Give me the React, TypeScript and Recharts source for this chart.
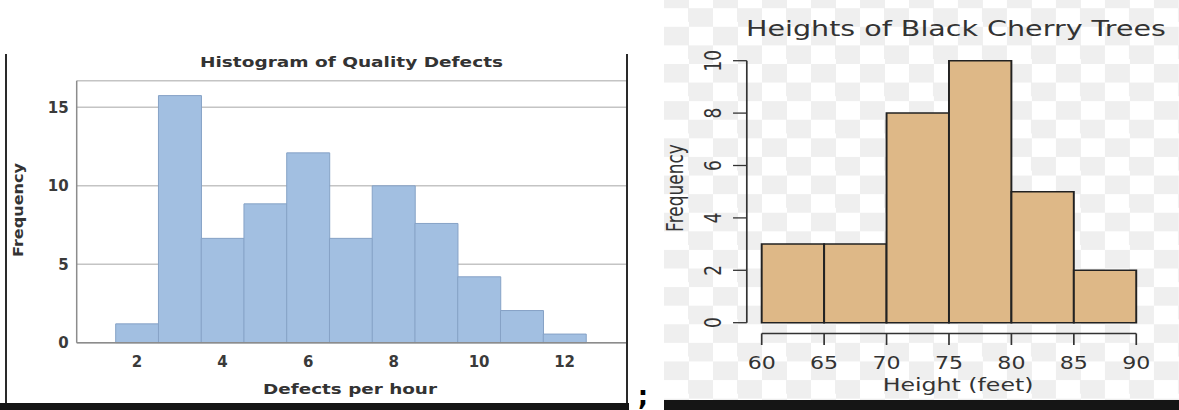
import React from 'react';
import { BarChart, Bar, XAxis, YAxis, CartesianGrid, ReferenceLine } from 'recharts';

// Histogram of Quality Defects (left)
const defectBins = [2, 3, 4, 5, 6, 7, 8, 9, 10, 11, 12];
const defectFreq = [1.2, 15.75, 6.65, 8.85, 12.1, 6.65, 10, 7.6, 4.2, 2.05, 0.55];
const defectYTicks = [0, 5, 10, 15];

// Heights of Black Cherry Trees (right)
const heightBinStarts = [60, 65, 70, 75, 80, 85];
const heightCounts = [3, 3, 8, 10, 5, 2];
const heightXTicks = [60, 65, 70, 75, 80, 85, 90];
const heightYTicks = [0, 2, 4, 6, 8, 10];

const defectData = defectBins.map((b, i) => ({ bin: b, freq: defectFreq[i] }));
const heightData = heightBinStarts.map((b, i) => ({ mid: b + 2.5, count: heightCounts[i] }));

const STRETCH = 1.3; // right picture is stretched sideways
const RIGHT_W = 515 / STRETCH;
const AXIS_GAP_X = 11.45; // R draws the y axis away from the bars
const AXIS_GAP_Y = 10.8;

const boldTick = { fill: '#3a3a3a', fontSize: 15, fontWeight: 700, fontFamily: 'DejaVu Sans' };

const YTickR = (props: any) => {
  const { x, y, payload } = props;
  const ax = x - AXIS_GAP_X;
  const tx = ax - 10.6 - 9.2;
  return (
    <g>
      <line x1={ax - 10.6} y1={y} x2={ax} y2={y} stroke="#333" strokeWidth={1.3} />
      <text x={tx} y={y} transform={`rotate(-90 ${tx} ${y})`} textAnchor="middle" fill="#333" fontSize={17} fontFamily="DejaVu Sans">
        {payload.value}
      </text>
    </g>
  );
};

const XTickR = (props: any) => {
  const { x, y, payload } = props;
  const ay = y + AXIS_GAP_Y;
  return (
    <g>
      <line x1={x} y1={ay} x2={x} y2={ay + 11.5} stroke="#333" strokeWidth={1.3} />
      <text x={x} y={ay + 35.2} textAnchor="middle" fill="#333" fontSize={17} fontFamily="DejaVu Sans">
        {payload.value}
      </text>
    </g>
  );
};

const shiftedLine = (dx: number, dy: number) => (p: any) => (
  <line x1={p.x1 + dx} y1={p.y1 + dy} x2={p.x2 + dx} y2={p.y2 + dy} stroke="#333" strokeWidth={1.3} />
);

const checker =
  'repeating-conic-gradient(#efefef 0% 25%, #ffffff 0% 50%) 0px 8.2px / 37.7px 37.2px';

export default function App() {
  return (
    <div style={{ position: 'absolute', left: 0, top: 0, width: 1179, height: 410, overflow: 'hidden', background: '#fff' }}>
      {/* left panel */}
      <div style={{ position: 'absolute', left: 0, top: 0, width: 628, height: 403 }}>
        <BarChart
          width={628}
          height={403}
          data={defectData}
          margin={{ top: 80.7, right: 2, bottom: 0, left: 0 }}
          barCategoryGap={0}
          barGap={0}
        >
          <CartesianGrid vertical={false} stroke="#c4c4c4" strokeWidth={1.5} />
          <XAxis
            dataKey="bin"
            interval={1}
            tickLine={false}
            axisLine={{ stroke: '#8c8c8c', strokeWidth: 1.5 }}
            padding={{ left: 39, right: 40 }}
            height={60.3}
            tickMargin={8}
            tick={boldTick}
          />
          <YAxis
            domain={[0, 16.7]}
            ticks={defectYTicks}
            interval={0}
            width={76.7}
            tickLine={false}
            axisLine={{ stroke: '#8c8c8c', strokeWidth: 1.5 }}
            tick={boldTick}
          />
          <Bar dataKey="freq" fill="#a2bfe1" stroke="#86a2c6" strokeWidth={1} isAnimationActive={false} />
        </BarChart>
        <svg width={628} height={410} style={{ position: 'absolute', left: 0, top: 0, pointerEvents: 'none' }}>
          <text x={351.5} y={66.5} textAnchor="middle" fontSize={14} fontWeight={700} fontFamily="DejaVu Sans" fill="#333" textLength={303} lengthAdjust="spacingAndGlyphs">
            Histogram of Quality Defects
          </text>
          <text x={350} y={394} textAnchor="middle" fontSize={14} fontWeight={700} fontFamily="DejaVu Sans" fill="#333" textLength={174} lengthAdjust="spacingAndGlyphs">
            Defects per hour
          </text>
          <text x={23} y={210} transform="rotate(-90 23 210)" textAnchor="middle" fontSize={14} fontWeight={700} fontFamily="DejaVu Sans" fill="#333" textLength={94} lengthAdjust="spacingAndGlyphs">
            Frequency
          </text>
        </svg>
      </div>
      <div style={{ position: 'absolute', left: 5, top: 54, width: 2, height: 349, background: '#2a2a2a' }} />
      <div style={{ position: 'absolute', left: 626, top: 54, width: 2, height: 349, background: '#2a2a2a' }} />
      <div style={{ position: 'absolute', left: 0, top: 403, width: 629, height: 7, background: '#151515' }} />

      <svg width={30} height={30} style={{ position: 'absolute', left: 628, top: 380 }}>
        <text x={15} y={25} textAnchor="middle" fontSize={26} fontWeight={700} fontFamily="DejaVu Sans" fill="#000">;</text>
      </svg>

      {/* right panel */}
      <div
        style={{
          position: 'absolute',
          left: 664,
          top: 0,
          width: RIGHT_W,
          height: 400,
          transform: `scaleX(${STRETCH})`,
          transformOrigin: '0 0',
          background: checker,
        }}
      >
        <BarChart
          width={RIGHT_W}
          height={400}
          data={heightData}
          margin={{ top: 60.7, right: RIGHT_W - 363.3, bottom: 0, left: 0 }}
          barCategoryGap={0}
          barGap={0}
        >
          <XAxis
            dataKey="mid"
            type="number"
            domain={[60, 90]}
            ticks={heightXTicks}
            interval={0}
            axisLine={false}
            tickLine={false}
            tickSize={0}
            tickMargin={0}
            height={400 - 322.7}
            tick={XTickR}
          />
          <YAxis
            domain={[0, 10]}
            ticks={heightYTicks}
            interval={0}
            width={75.15}
            axisLine={false}
            tickLine={false}
            tickSize={0}
            tickMargin={0}
            tick={YTickR}
          />
          <Bar dataKey="count" fill="#deb887" stroke="#222" strokeWidth={1.5} isAnimationActive={false} />
          <ReferenceLine
            segment={[{ x: heightXTicks[0], y: 0 }, { x: heightXTicks[heightXTicks.length - 1], y: 0 }]}
            shape={shiftedLine(0, AXIS_GAP_Y)}
          />
          <ReferenceLine
            segment={[{ x: heightXTicks[0], y: 0 }, { x: heightXTicks[0], y: heightYTicks[heightYTicks.length - 1] }]}
            shape={shiftedLine(-AXIS_GAP_X, 0)}
          />
        </BarChart>
        <svg width={RIGHT_W} height={400} style={{ position: 'absolute', left: 0, top: 0, pointerEvents: 'none' }}>
          <text x={224.6} y={36} textAnchor="middle" fontSize={21} fontFamily="DejaVu Sans" fill="#333" textLength={323} lengthAdjust="spacingAndGlyphs">
            Heights of Black Cherry Trees
          </text>
          <text x={226.2} y={391.5} textAnchor="middle" fontSize={17} fontFamily="DejaVu Sans" fill="#333" textLength={116} lengthAdjust="spacingAndGlyphs">
            Height (feet)
          </text>
          <text x={15} y={188} transform="rotate(-90 15 188)" textAnchor="middle" fontSize={17} fontFamily="DejaVu Sans" fill="#333">
            Frequency
          </text>
        </svg>
      </div>
      <div style={{ position: 'absolute', left: 664, top: 400, width: 515, height: 10, background: '#151515' }} />
    </div>
  );
}
